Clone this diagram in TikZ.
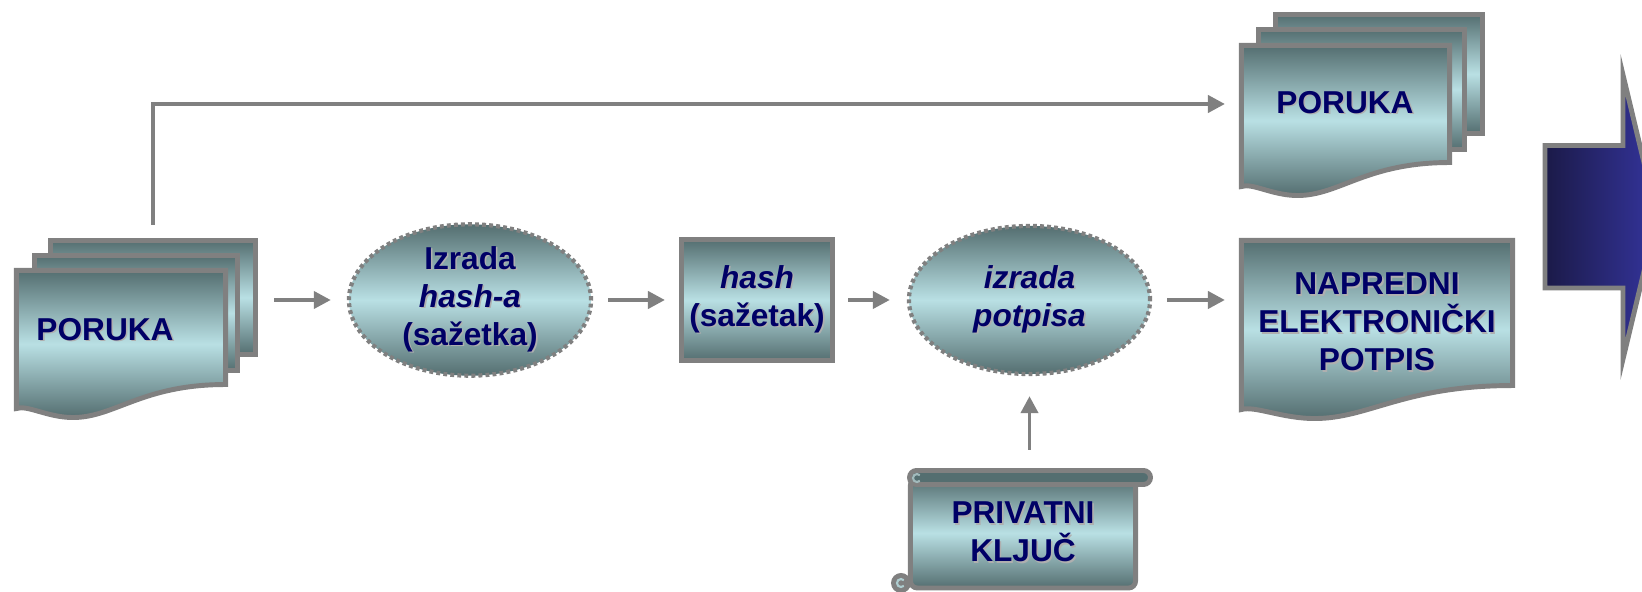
\documentclass[tikz,border=0pt]{standalone}
\usepackage{fontspec}
\setmainfont{Liberation Sans}
\usetikzlibrary{arrows.meta, shapes, calc}

\definecolor{docdark}{RGB}{84,110,112}
\definecolor{doclight}{RGB}{185,224,228}
\definecolor{linegray}{RGB}{128,128,128}
\definecolor{navy}{RGB}{0,0,102}
\definecolor{shadowgray}{RGB}{175,175,175}
\definecolor{bigleft}{RGB}{27,26,72}
\definecolor{bigright}{RGB}{52,52,156}

% text with a light drop shadow
\newcommand{\sh}[1]{\rlap{\kern0.45pt\raisebox{-0.45pt}{\color{shadowgray}#1}}#1}

% sheet with a wavy bottom; #1 frame node, #2 width in px
\newcommand{\wavy}[2]{%
  \shade[sheet] (#1.north west) -- (#1.north east) -- (#1.south east)
    .. controls +(-0.4*#2,0) and +(0.2*#2,0) .. ($(#1.south west)+(0.27*#2,33)$)
    .. controls +(-0.12*#2,0) and +(0.05*#2,-4) .. ($(#1.south west)+(0,24)$) -- cycle;}

\begin{document}
\begin{tikzpicture}[x=0.01cm, y=-0.01cm,
  sheet/.style={top color=docdark, bottom color=docdark, middle color=doclight, draw=linegray, line width=1.4pt},
  frame/.style={inner sep=0pt, outer sep=0pt},
  oval/.style={ellipse, top color=docdark, bottom color=docdark, middle color=doclight, draw=linegray,
    line width=1.2pt, dash pattern=on 1.1pt off 0.9pt},
  lbl/.style={font=\bfseries\fontsize{9}{10.8}\selectfont, text=navy, align=center, inner sep=0pt},
  arr/.style={draw=linegray, line width=1.13pt, -{Triangle[length=0.17cm, width=0.17cm]}}]
\useasboundingbox (0,0) rectangle (1642,592);

% message, left
\node[frame, sheet, minimum width=2.05cm, minimum height=1.14cm] (backA) at (153,297.5) {};
\node[frame, sheet, minimum width=2.03cm, minimum height=1.15cm] (midA) at (136,313) {};
\node[frame, minimum width=2.09cm, minimum height=1.14cm] (frontA) at (121,327.5) {};
\wavy{frontA}{209}
\node[lbl] (porukaA) at (105,330) {\sh{PORUKA}};

% message, right
\node[frame, sheet, minimum width=2.07cm, minimum height=1.19cm] (backB) at (1379,74) {};
\node[frame, sheet, minimum width=2.06cm, minimum height=1.20cm] (midB) at (1361.5,89.5) {};
\node[frame, minimum width=2.08cm, minimum height=1.17cm] (frontB) at (1345.5,104) {};
\wavy{frontB}{208}
\node[lbl] (porukaB) at (1345,103) {\sh{PORUKA}};

% signature
\node[frame, minimum width=2.71cm, minimum height=1.45cm] (frontC) at (1377,313) {};
\wavy{frontC}{271}
\node[lbl] (napredni) at (1377,323) {\sh{NAPREDNI}\\\sh{ELEKTRONIČKI}\\\sh{POTPIS}};

% steps
\node[oval, lbl, minimum width=2.42cm, minimum height=1.50cm] (izrada) at (470,300)
  {\sh{Izrada}\\\sh{\textit{hash-a}}\\\sh{(sažetka)}};
\node[frame, sheet, lbl, minimum width=1.51cm, minimum height=1.21cm] (hash) at (757,300)
  {\sh{\textit{hash}}\\\sh{(sažetak)}};
\node[oval, lbl, minimum width=2.41cm, minimum height=1.48cm] (potpis) at (1029.5,300)
  {\sh{\textit{izrada}}\\\sh{\textit{potpisa}}};

% private key scroll
\node[frame, sheet, lbl, minimum width=2.25cm, minimum height=1.10cm, rounded corners=2pt] (kljuc) at (1023,533)
  {\sh{PRIVATNI}\\\sh{KLJUČ}};
\fill[linegray] (901,583) circle (10);
\draw[doclight!80!linegray, line width=0.6pt] (903.8,580.2) arc (-45:-315:4);
\draw[fill=docdark, draw=linegray, line width=1.4pt, rounded corners=0.07cm] (909.5,470.5) rectangle (1150.5,484.5);
\draw[doclight!60!linegray, line width=0.6pt] (919.8,475.2) arc (-45:-315:4);

% big arrow
\shade[left color=bigleft, right color=bigright, draw=linegray, line width=1.4pt]
  (1545,145.5) -- (1623,145.5) -- (1623,75) -- (1657,217) -- (1623,359) -- (1623,288) -- (1545,288) -- cycle;

\draw[arr, shorten <=0.155cm, shorten >=0.165cm] (backA.north) |- (frontB);
\draw[arr, shorten <=0.185cm, shorten >=0.16cm] (backA.east |- izrada) -- (izrada);
\draw[arr, shorten <=0.15cm, shorten >=0.165cm] (izrada) -- (hash);
\draw[arr, shorten <=0.155cm, shorten >=0.17cm] (hash) -- (potpis);
\draw[arr, shorten <=0.15cm, shorten >=0.165cm] (potpis) -- (frontC.west |- potpis);
\draw[arr, shorten <=0.28cm, shorten >=0.20cm] (kljuc.north -| potpis) -- (potpis);
\end{tikzpicture}
\end{document}
